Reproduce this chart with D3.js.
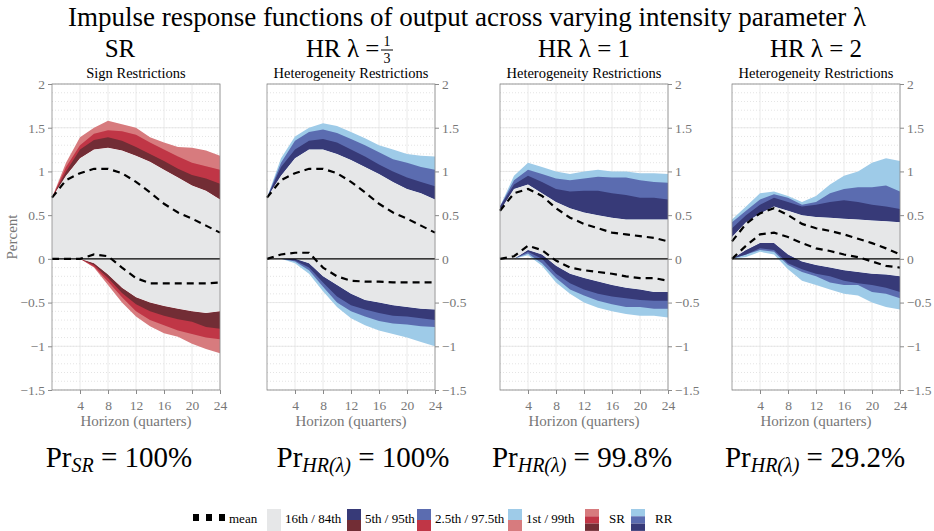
<!DOCTYPE html>
<html>
<head>
<meta charset="utf-8">
<script src="https://cdn.jsdelivr.net/npm/d3@7"></script>
<style>
body { margin: 0; background: #fff; }
</style>
</head>
<body>
<svg id="chart" width="934" height="531"></svg>
<script>
const horizons = [0, 2, 4, 6, 8, 10, 12, 14, 16, 18, 20, 22, 24]
const xTicks = [4, 8, 12, 16, 20, 24]
const yTicks = [-1.5, -1, -0.5, 0, 0.5, 1, 1.5, 2]

// upper responses: p99, p97.5, p95, p84, mean
const srUp = {
	p99:  [0.7, 1.1, 1.39, 1.5, 1.58, 1.54, 1.5, 1.39, 1.33, 1.28, 1.27, 1.24, 1.18],
	p975: [0.7, 1.05, 1.3, 1.43, 1.47, 1.46, 1.42, 1.33, 1.25, 1.17, 1.1, 1.06, 1.02],
	p95:  [0.7, 1.0, 1.25, 1.36, 1.39, 1.35, 1.28, 1.2, 1.12, 1.03, 0.96, 0.92, 0.86],
	p84:  [0.7, 0.95, 1.15, 1.25, 1.27, 1.24, 1.18, 1.11, 1.02, 0.93, 0.84, 0.78, 0.68],
	mean: [0.7, 0.9, 0.98, 1.03, 1.03, 0.98, 0.88, 0.76, 0.63, 0.53, 0.46, 0.38, 0.3]
}
const srLo = {
	p1:   [0, 0, 0, -0.1, -0.3, -0.5, -0.66, -0.77, -0.85, -0.89, -0.97, -1.03, -1.08],
	p25:  [0, 0, 0, -0.09, -0.26, -0.44, -0.6, -0.7, -0.76, -0.82, -0.86, -0.9, -0.92],
	p5:   [0, 0, 0, -0.07, -0.22, -0.39, -0.52, -0.6, -0.65, -0.69, -0.72, -0.78, -0.8],
	p16:  [0, 0, 0, -0.05, -0.18, -0.33, -0.44, -0.5, -0.54, -0.57, -0.6, -0.62, -0.6],
	mean: [0, 0, 0, 0.05, 0.03, -0.1, -0.22, -0.28, -0.28, -0.28, -0.28, -0.28, -0.27]
}
const hr13Up = {
	p99:  [0.7, 1.15, 1.4, 1.5, 1.55, 1.52, 1.45, 1.38, 1.3, 1.25, 1.2, 1.18, 1.17],
	p975: [0.7, 1.1, 1.35, 1.45, 1.48, 1.44, 1.37, 1.3, 1.22, 1.14, 1.1, 1.05, 1.02],
	p95:  [0.7, 1.05, 1.25, 1.35, 1.37, 1.33, 1.25, 1.17, 1.08, 1.0, 0.93, 0.88, 0.83],
	p84:  [0.7, 0.95, 1.15, 1.25, 1.25, 1.2, 1.13, 1.05, 0.97, 0.88, 0.8, 0.75, 0.68],
	mean: [0.7, 0.9, 0.98, 1.03, 1.03, 0.98, 0.88, 0.76, 0.63, 0.53, 0.46, 0.38, 0.3]
}
const hr13Lo = {
	p1:   [0, 0, -0.05, -0.17, -0.37, -0.55, -0.68, -0.76, -0.82, -0.86, -0.9, -0.95, -1.0],
	p25:  [0, 0, -0.03, -0.13, -0.32, -0.5, -0.6, -0.66, -0.71, -0.74, -0.75, -0.77, -0.78],
	p5:   [0, 0, -0.02, -0.1, -0.27, -0.43, -0.53, -0.58, -0.62, -0.65, -0.66, -0.68, -0.7],
	p16:  [0, 0, 0, -0.05, -0.2, -0.3, -0.4, -0.47, -0.5, -0.53, -0.55, -0.57, -0.58],
	mean: [0, 0.05, 0.07, 0.07, -0.1, -0.2, -0.25, -0.26, -0.26, -0.27, -0.27, -0.27, -0.27]
}
const hr1Up = {
	p99:  [0.6, 0.95, 1.1, 1.05, 1.0, 0.97, 1.0, 1.02, 1.0, 1.0, 0.98, 0.98, 0.97],
	p975: [0.6, 0.9, 1.02, 0.97, 0.92, 0.9, 0.92, 0.94, 0.93, 0.93, 0.9, 0.88, 0.87],
	p95:  [0.6, 0.85, 0.95, 0.88, 0.8, 0.77, 0.78, 0.78, 0.75, 0.73, 0.7, 0.7, 0.68],
	p84:  [0.55, 0.8, 0.85, 0.75, 0.65, 0.58, 0.53, 0.5, 0.47, 0.45, 0.45, 0.45, 0.45],
	mean: [0.55, 0.75, 0.8, 0.72, 0.58, 0.47, 0.4, 0.35, 0.3, 0.28, 0.26, 0.24, 0.2]
}
const hr1Lo = {
	p1:   [0, 0, 0.04, -0.08, -0.27, -0.4, -0.5, -0.56, -0.6, -0.63, -0.65, -0.65, -0.67],
	p25:  [0, 0, 0.06, -0.05, -0.22, -0.35, -0.42, -0.48, -0.52, -0.55, -0.55, -0.57, -0.57],
	p5:   [0, 0, 0.08, 0, -0.17, -0.28, -0.35, -0.4, -0.43, -0.45, -0.47, -0.48, -0.48],
	p16:  [0, 0, 0.1, 0.05, -0.08, -0.17, -0.22, -0.26, -0.3, -0.33, -0.35, -0.38, -0.38],
	mean: [0, 0.03, 0.15, 0.1, -0.02, -0.1, -0.13, -0.15, -0.17, -0.2, -0.22, -0.22, -0.25]
}
const hr2Up = {
	p99:  [0.45, 0.6, 0.75, 0.77, 0.72, 0.65, 0.72, 0.85, 0.95, 1.0, 1.1, 1.15, 1.12],
	p975: [0.42, 0.55, 0.68, 0.74, 0.7, 0.62, 0.65, 0.75, 0.8, 0.82, 0.82, 0.84, 0.77],
	p95:  [0.35, 0.5, 0.62, 0.7, 0.65, 0.6, 0.62, 0.65, 0.67, 0.65, 0.62, 0.6, 0.57],
	p84:  [0.25, 0.42, 0.52, 0.6, 0.55, 0.5, 0.48, 0.47, 0.46, 0.45, 0.44, 0.43, 0.42],
	mean: [0.2, 0.4, 0.52, 0.58, 0.5, 0.4, 0.35, 0.32, 0.28, 0.23, 0.18, 0.12, 0.05]
}
const hr2Lo = {
	p1:   [0, 0.02, 0.08, 0.05, -0.12, -0.25, -0.3, -0.35, -0.4, -0.42, -0.5, -0.55, -0.58],
	p25:  [0, 0.05, 0.1, 0.08, -0.07, -0.15, -0.2, -0.27, -0.3, -0.3, -0.38, -0.4, -0.45],
	p5:   [0, 0.05, 0.12, 0.1, -0.05, -0.12, -0.17, -0.2, -0.25, -0.28, -0.3, -0.33, -0.38],
	p16:  [0, 0.1, 0.18, 0.18, 0.05, -0.03, -0.07, -0.1, -0.13, -0.15, -0.17, -0.18, -0.2],
	mean: [0, 0.15, 0.28, 0.3, 0.25, 0.18, 0.12, 0.09, 0.05, 0.02, -0.03, -0.08, -0.1]
}

const red  = ['#d77b7e', '#c03646', '#722d35']
const blue = ['#9ecbe8', '#5b6cb0', '#373a78']
const gray = '#e6e7e8'

const panels = [
	{ left: 52,  up: srUp,   lo: srLo,   pal: red,  axis: 'left',  sub: 'Sign Restrictions' },
	{ left: 267, up: hr13Up, lo: hr13Lo, pal: blue, axis: 'right', sub: 'Heterogeneity Restrictions' },
	{ left: 500, up: hr1Up,  lo: hr1Lo,  pal: blue, axis: 'right', sub: 'Heterogeneity Restrictions' },
	{ left: 732, up: hr2Up,  lo: hr2Lo,  pal: blue, axis: 'right', sub: 'Heterogeneity Restrictions' }
]
const pw = 168, plotTop = 84, plotBottom = 390
const serif = '"Liberation Serif", "DejaVu Serif", serif'

const svg = d3.select('#chart')

svg.append('text').attr('x', 467).attr('y', 26).attr('text-anchor', 'middle')
	.attr('font-size', 27).text('Impulse response functions of output across varying intensity parameter λ')

const y = d3.scaleLinear().domain([-1.5, 2]).range([plotBottom, plotTop])

panels.forEach((p, pi) => {
	const x = d3.scaleLinear().domain([0, 24]).range([p.left, p.left + pw])
	const g = svg.append('g')

	// grid
	g.selectAll('.minor').data(d3.range(-15, 21).map(d => d / 10)).enter().append('line')
		.attr('x1', p.left).attr('x2', p.left + pw)
		.attr('y1', d => y(d)).attr('y2', d => y(d))
		.attr('stroke', '#d8d8d8').attr('stroke-width', 0.7).attr('stroke-dasharray', '1,2')
	g.selectAll('.hmaj').data(yTicks).enter().append('line')
		.attr('x1', p.left).attr('x2', p.left + pw)
		.attr('y1', d => y(d)).attr('y2', d => y(d))
		.attr('stroke', '#e4e4e4').attr('stroke-width', 0.8)
	g.selectAll('.vmaj').data(xTicks).enter().append('line')
		.attr('x1', d => x(d)).attr('x2', d => x(d))
		.attr('y1', plotTop).attr('y2', plotBottom)
		.attr('stroke', '#e4e4e4').attr('stroke-width', 0.8)

	const band = (a, b) => d3.area().x((d, i) => x(horizons[i])).y0((d, i) => y(a[i])).y1((d, i) => y(b[i]))
	const draw = (a, b, c) => g.append('path').datum(horizons).attr('d', band(a, b)).attr('fill', c)

	draw(p.up.p84, p.up.p99, p.pal[0])
	draw(p.up.p84, p.up.p975, p.pal[1])
	draw(p.up.p84, p.up.p95, p.pal[2])
	draw(p.lo.p16, p.lo.p1, p.pal[0])
	draw(p.lo.p16, p.lo.p25, p.pal[1])
	draw(p.lo.p16, p.lo.p5, p.pal[2])
	draw(p.lo.p16, p.up.p84, gray)

	g.append('line').attr('x1', p.left).attr('x2', p.left + pw)
		.attr('y1', y(0)).attr('y2', y(0)).attr('stroke', '#000').attr('stroke-width', 1.2)

	const line = d3.line().x((d, i) => x(horizons[i])).y(d => y(d))
	;[p.up.mean, p.lo.mean].forEach(m => {
		g.append('path').datum(m).attr('d', line).attr('fill', 'none')
			.attr('stroke', '#000').attr('stroke-width', 2.2).attr('stroke-dasharray', '7,5')
	})

	g.append('rect').attr('x', p.left).attr('y', plotTop).attr('width', pw).attr('height', plotBottom - plotTop)
		.attr('fill', 'none').attr('stroke', '#8a8a8a').attr('stroke-width', 0.8)

	const xa = g.append('g').attr('transform', `translate(0,${plotBottom})`)
		.call(d3.axisBottom(x).tickValues(xTicks).tickSize(4).tickPadding(6))
	const ya = g.append('g').attr('transform', `translate(${p.axis === 'left' ? p.left : p.left + pw},0)`)
		.call((p.axis === 'left' ? d3.axisLeft(y) : d3.axisRight(y)).tickValues(yTicks).tickSize(4).tickPadding(3).tickFormat(d3.format('')))
	;[xa, ya].forEach(a => {
		a.select('.domain').remove()
		a.selectAll('line').attr('stroke', '#8a8a8a')
		a.selectAll('text').attr('fill', '#777').attr('font-size', 13.5)
	})

	g.append('text').attr('x', p.left + pw / 2).attr('y', 426).attr('text-anchor', 'middle')
		.attr('font-size', 15).attr('fill', '#777').text('Horizon (quarters)')
	g.append('text').attr('x', p.left + pw / 2).attr('y', 78).attr('text-anchor', 'middle')
		.attr('font-size', 14.5).text(p.sub)
})

svg.append('text').attr('transform', 'translate(17,237) rotate(-90)').attr('text-anchor', 'middle')
	.attr('font-size', 15).attr('fill', '#777').text('Percent')

// big panel headings
const heads = svg.append('g').attr('font-size', 25)
heads.append('text').attr('x', 120).attr('y', 57).attr('text-anchor', 'middle').text('SR')
heads.append('text').attr('x', 306).attr('y', 57).text('HR λ =')
heads.append('text').attr('x', 387).attr('y', 46).attr('font-size', 14).attr('text-anchor', 'middle').text('1')
heads.append('line').attr('x1', 381).attr('x2', 393).attr('y1', 50).attr('y2', 50).attr('stroke', '#000').attr('stroke-width', 1)
heads.append('text').attr('x', 387).attr('y', 63).attr('font-size', 14).attr('text-anchor', 'middle').text('3')
heads.append('text').attr('x', 584).attr('y', 57).attr('text-anchor', 'middle').text('HR λ = 1')
heads.append('text').attr('x', 816).attr('y', 57).attr('text-anchor', 'middle').text('HR λ = 2')

// probabilities
const probs = [
	{ cx: 119, sub: 'SR', val: ' = 100%' },
	{ cx: 363, sub: 'HR(λ)', val: ' = 100%' },
	{ cx: 582, sub: 'HR(λ)', val: ' = 99.8%' },
	{ cx: 815, sub: 'HR(λ)', val: ' = 29.2%' }
]
probs.forEach(p => {
	const t = svg.append('text').attr('x', p.cx).attr('y', 467).attr('text-anchor', 'middle').attr('font-size', 29)
	t.append('tspan').text('Pr')
	t.append('tspan').attr('font-size', 20).attr('font-style', 'italic').attr('dy', 5).text(p.sub)
	t.append('tspan').attr('dy', -5).text(p.val)
})

// legend
const lg = svg.append('g').attr('font-size', 13)
;[0, 1, 2].forEach(i => lg.append('rect').attr('x', 193 + i * 13).attr('y', 514).attr('width', 6).attr('height', 7).attr('fill', '#000'))
lg.append('text').attr('x', 229).attr('y', 523).text('mean')
lg.append('rect').attr('x', 267).attr('y', 509).attr('width', 14).attr('height', 22).attr('fill', gray)
lg.append('text').attr('x', 285).attr('y', 523).text('16th / 84th')
const pair = (xx, c1, c2, label) => {
	lg.append('rect').attr('x', xx).attr('y', 509).attr('width', 14).attr('height', 11).attr('fill', c1)
	lg.append('rect').attr('x', xx).attr('y', 520).attr('width', 14).attr('height', 11).attr('fill', c2)
	lg.append('text').attr('x', xx + 18).attr('y', 523).text(label)
}
pair(347, blue[2], red[2], '5th / 95th')
pair(417, blue[1], red[1], '2.5th / 97.5th')
pair(508, blue[0], red[0], '1st / 99th')
;[[585, red, 'SR'], [631, blue, 'RR']].forEach(([xx, pal, label]) => {
	pal.forEach((c, i) => lg.append('rect').attr('x', xx).attr('y', 509 + i * 7.3).attr('width', 14).attr('height', 7.3).attr('fill', c))
	lg.append('text').attr('x', xx + 24).attr('y', 523).text(label)
})

svg.selectAll('text').attr('font-family', serif)
</script>
</body>
</html>
